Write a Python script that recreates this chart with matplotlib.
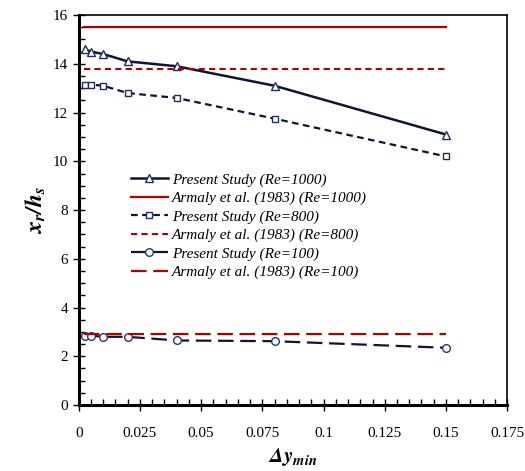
import numpy as np
import matplotlib.pyplot as plt
from matplotlib.ticker import MultipleLocator, FuncFormatter

plt.rcParams['font.family'] = ['Liberation Serif', 'DejaVu Serif']
plt.rcParams['mathtext.fontset'] = 'stix'

# data
dy = [0.0025, 0.005, 0.01, 0.02, 0.04, 0.08, 0.15]
re1000 = [14.6, 14.5, 14.4, 14.1, 13.9, 13.1, 11.1]
re800 = [13.15, 13.15, 13.1, 12.8, 12.6, 11.75, 10.2]
re100 = [2.85, 2.85, 2.8, 2.8, 2.65, 2.62, 2.35]
armaly_x = [0.002, 0.15]
armaly1000 = 15.5
armaly800 = 13.8
armaly100 = 2.9

navy = '#0c1733'
red = '#b00000'

fig = plt.figure(figsize=(5.25, 4.71), dpi=100)
ax = fig.add_axes([0.150, 0.140, 0.816, 0.828])

ax.plot(dy, re1000, color=navy, lw=1.8, marker='^', ms=6, mfc='white', mec='#1f3060',
        label='Present Study (Re=1000)')
ax.plot(armaly_x, [armaly1000] * 2, color=red, lw=1.6, label='Armaly et al. (1983) (Re=1000)')
ax.plot(dy, re800, color=navy, lw=1.6, ls=(0, (3, 2)), marker='s', ms=5, mfc='white',
        mec='#1f3060', label='Present Study (Re=800)')
ax.plot(armaly_x, [armaly800] * 2, color=red, lw=1.5, ls=(0, (3, 2)),
        label='Armaly et al. (1983) (Re=800)')
ax.plot(dy, re100, color=navy, lw=1.6, ls=(0, (7, 3)), marker='o', ms=5.5, mfc='white',
        mec='#1f3a7a', label='Present Study (Re=100)')
ax.plot(armaly_x, [armaly100] * 2, color=red, lw=1.6, ls=(0, (7, 3)),
        label='Armaly et al. (1983) (Re=100)')

ax.set_xlim(0, 0.175)
ax.set_ylim(0, 16)
ax.xaxis.set_major_locator(MultipleLocator(0.025))
ax.xaxis.set_minor_locator(MultipleLocator(0.005))
ax.yaxis.set_major_locator(MultipleLocator(2))
ax.yaxis.set_minor_locator(MultipleLocator(0.5))
ax.xaxis.set_major_formatter(FuncFormatter(lambda v, p: '0' if v == 0 else ('%.3f' % v).rstrip('0')))
ax.tick_params(which='major', direction='inout', length=8, width=1, labelsize=11)
ax.tick_params(which='minor', direction='in', length=4, width=1)
ax.tick_params(axis='x', which='major', pad=12)
for s in ax.spines.values():
    s.set_linewidth(1.2)
ax.spines['left'].set_linewidth(2.2)
ax.spines['bottom'].set_linewidth(2.2)

ax.set_xlabel(r'$\mathbfit{\Delta y_{min}}$', fontsize=15, labelpad=4)
ax.set_ylabel(r'$\mathbfit{x_r/h_s}$', fontsize=17, labelpad=4)

ax.legend(loc='upper left', bbox_to_anchor=(0.09, 0.63), frameon=False,
          prop={'style': 'italic', 'size': 11}, handlelength=2.4, handletextpad=0.3,
          labelspacing=0.3)

fig.savefig('out.png', dpi=100)
